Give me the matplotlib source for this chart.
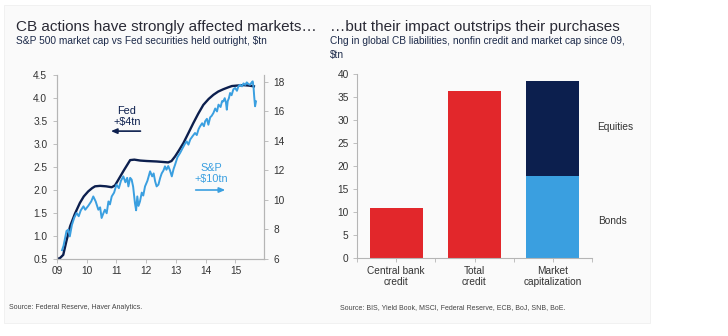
import matplotlib.pyplot as plt
from matplotlib.patches import Rectangle

plt.rcParams['font.family'] = ['Liberation Sans', 'DejaVu Sans']

# left panel: Fed securities held outright ($tn, left axis)
fed_x = [2009.0, 2009.1, 2009.21, 2009.32, 2009.44, 2009.6, 2009.77, 2009.9, 2010.05,
         2010.18, 2010.28, 2010.45, 2010.65, 2010.84, 2010.95, 2011.06, 2011.25,
         2011.46, 2011.6, 2011.8, 2012.02, 2012.35, 2012.55, 2012.74, 2012.85,
         2012.97, 2013.1, 2013.25, 2013.42, 2013.58, 2013.75, 2013.92, 2014.1,
         2014.26, 2014.42, 2014.59, 2014.75, 2014.88, 2015.05, 2015.27, 2015.45, 2015.66]
fed_y = [0.5, 0.52, 0.59, 0.9, 1.21, 1.48, 1.72, 1.86, 1.97,
         2.04, 2.08, 2.09, 2.08, 2.06, 2.1, 2.22, 2.43,
         2.65, 2.66, 2.64, 2.63, 2.62, 2.61, 2.6, 2.63,
         2.73, 2.86, 3.02, 3.24, 3.45, 3.66, 3.85, 3.98,
         4.07, 4.14, 4.19, 4.23, 4.26, 4.27, 4.28, 4.27, 4.25]

# S&P 500 market cap ($tn, right axis)
sp_x = [2009.17, 2009.22, 2009.27, 2009.32, 2009.38, 2009.43, 2009.5, 2009.58, 2009.66,
        2009.73, 2009.8, 2009.89, 2009.95, 2010.05, 2010.15, 2010.22, 2010.3, 2010.39,
        2010.45, 2010.5, 2010.56, 2010.61, 2010.67, 2010.73, 2010.78, 2010.84, 2010.92,
        2011.0, 2011.08, 2011.15, 2011.23, 2011.3, 2011.36, 2011.4, 2011.46, 2011.51,
        2011.56, 2011.62, 2011.66, 2011.7, 2011.74, 2011.79, 2011.85, 2011.9, 2011.96,
        2012.04, 2012.13, 2012.2, 2012.25, 2012.3, 2012.35, 2012.41, 2012.47, 2012.52,
        2012.58, 2012.63, 2012.68, 2012.74, 2012.8, 2012.86, 2012.92, 2012.97, 2013.05,
        2013.14, 2013.22, 2013.3, 2013.36, 2013.42, 2013.48, 2013.55, 2013.64, 2013.7,
        2013.76, 2013.81, 2013.88, 2013.94, 2013.98, 2014.04, 2014.09, 2014.15, 2014.2,
        2014.26, 2014.32, 2014.38, 2014.43, 2014.5, 2014.55, 2014.59, 2014.64, 2014.68,
        2014.71, 2014.74, 2014.78, 2014.82, 2014.87, 2014.93, 2014.99, 2015.05, 2015.1,
        2015.16, 2015.22, 2015.27, 2015.33, 2015.38, 2015.44, 2015.49, 2015.54, 2015.58,
        2015.61, 2015.63, 2015.66, 2015.69]
sp_y = [6.6, 6.9, 7.4, 7.9, 7.99, 7.53, 8.3, 8.8, 9.12,
        8.9, 9.3, 9.57, 9.34, 9.6, 9.9, 10.24, 9.9, 9.34,
        9.5, 8.78, 9.1, 9.34, 9.1, 9.9, 9.7, 10.24, 10.5,
        11.04, 10.8, 11.3, 11.6, 11.2, 11.5, 10.92, 11.5, 11.38,
        10.9, 9.8, 9.3, 10.24, 9.6, 9.9, 10.5, 10.3, 10.92,
        11.3, 11.94, 11.6, 11.8, 11.26, 10.92, 11.04, 11.5, 11.8,
        12.0, 12.28, 12.05, 12.3, 12.0, 11.6, 12.1, 12.39, 12.9,
        13.19, 13.5, 13.8, 13.97, 13.75, 14.1, 14.3, 14.54, 14.4,
        14.8, 14.99, 15.2, 15.0, 15.33, 15.5, 15.1, 15.6, 15.7,
        15.9, 16.2, 16.0, 16.46, 16.3, 16.7, 16.68, 16.9, 16.6,
        16.12, 16.7, 16.9, 17.25, 17.1, 17.5, 17.59, 17.4, 17.7,
        17.81, 17.7, 17.9, 17.8, 17.97, 17.85, 17.81, 17.95, 18.04,
        17.6, 17.02, 16.35, 16.68]

# right panel: change since 09, $tn
bar_labels = ['Central bank\ncredit', 'Total\ncredit', 'Market\ncapitalization']
credit = [10.8, 36.4, 0]
bonds = [0, 0, 17.8]
equities = [0, 0, 20.7]

navy = '#0c1f4e'
lightblue = '#3a9fe0'
red = '#e2272b'
spine = '#b5b5b5'
txt = '#333333'
tick_fs = 7.3

fig = plt.figure(figsize=(7.28, 3.36), dpi=100)
fig.patches.append(Rectangle((4 / 728, 13 / 336), 646 / 728, 318 / 336,
                             transform=fig.transFigure, facecolor='#fafafa',
                             edgecolor='#efefef', lw=0.6, zorder=-1))

fig.text(16 / 728, 1 - 31 / 336, 'CB actions have strongly affected markets…',
         fontsize=11, color='#2a2a35')
fig.text(16 / 728, 1 - 44.5 / 336, 'S&P 500 market cap vs Fed securities held outright, $tn',
         fontsize=7.3, color='#1c2a4a')
fig.text(330 / 728, 1 - 31 / 336, '…but their impact outstrips their purchases',
         fontsize=11, color='#2a2a35')
fig.text(330 / 728, 1 - 44.5 / 336, 'Chg in global CB liabilities, nonfin credit and market cap since 09,',
         fontsize=7.3, color='#1c2a4a')
fig.text(330 / 728, 1 - 58 / 336, '$tn', fontsize=7.3, color='#1c2a4a')
fig.text(9 / 728, 1 - 309 / 336, 'Source: Federal Reserve, Haver Analytics.',
         fontsize=5.0, color='#444444')
fig.text(340 / 728, 1 - 309 / 336, 'Source: BIS, Yield Book, MSCI, Federal Reserve, ECB, BoJ, SNB, BoE.',
         fontsize=5.0, color='#444444')

# left chart
ax = fig.add_axes([57 / 728, 77 / 336, 207 / 728, 184 / 336])
ax.set_facecolor('none')
ax.plot(fed_x, fed_y, color=navy, lw=1.7, solid_capstyle='butt')
ax.set_xlim(2009, 2015.96)
ax.set_ylim(0.5, 4.5)
ax.set_yticks([0.5, 1.0, 1.5, 2.0, 2.5, 3.0, 3.5, 4.0, 4.5])
ax.set_xticks(range(2009, 2016))
ax.set_xticklabels(['09', '10', '11', '12', '13', '14', '15'])
ax2 = ax.twinx()
ax2.plot(sp_x, sp_y, color=lightblue, lw=1.4)
ax2.set_ylim(6, 18.47)
ax2.set_yticks(range(6, 19, 2))
for a in (ax, ax2):
    a.spines['top'].set_visible(False)
    for s in ('left', 'right', 'bottom'):
        a.spines[s].set_color(spine)
        a.spines[s].set_linewidth(0.8)
    a.tick_params(colors=spine, labelcolor=txt, labelsize=tick_fs, length=3, width=0.6, pad=2)
ax.tick_params(axis='y', pad=4)
ax2.tick_params(axis='y', pad=4)

ax.text(2011.35, 3.6, 'Fed\n+$4tn', color=navy, fontsize=7.8, ha='center', va='center',
        linespacing=1.1)
ax.annotate('', xy=(2010.72, 3.28), xytext=(2011.9, 3.28),
            arrowprops=dict(arrowstyle='-|>,head_length=0.35,head_width=0.15', color=navy, lw=1.2))
ax.text(2014.2, 2.36, 'S&P\n+$10tn', color=lightblue, fontsize=7.8, ha='center', va='center',
        linespacing=1.1)
ax.annotate('', xy=(2014.75, 2.0), xytext=(2013.57, 2.0),
            arrowprops=dict(arrowstyle='-|>,head_length=0.35,head_width=0.15', color=lightblue, lw=1.2))

# right chart
bx = fig.add_axes([357 / 728, 78 / 336, 235 / 728, 184 / 336])
bx.set_facecolor('none')
pos = range(len(bar_labels))
bx.bar(pos, credit, width=0.68, color=red)
bx.bar(pos, bonds, width=0.68, color=lightblue)
bx.bar(pos, equities, bottom=bonds, width=0.68, color=navy)
bx.set_xlim(-0.5, 2.5)
bx.set_ylim(0, 40)
bx.set_yticks(range(0, 41, 5))
bx.set_xticks(list(pos))
bx.set_xticklabels(bar_labels, linespacing=1.1)
bx.set_xticks([-0.5, 0.5, 1.5, 2.5], minor=True)
bx.tick_params(axis='x', which='major', length=0)
bx.tick_params(axis='x', which='minor', length=3, width=0.6, colors=spine)
bx.tick_params(colors=spine, labelcolor=txt, labelsize=tick_fs, width=0.6, length=3, pad=3)
for s in ('top', 'right'):
    bx.spines[s].set_visible(False)
for s in ('left', 'bottom'):
    bx.spines[s].set_color(spine)
    bx.spines[s].set_linewidth(0.8)
bx.text(2.56, 28.5, 'Equities', fontsize=tick_fs, color=txt, va='center', ha='left')
bx.text(2.58, 8.0, 'Bonds', fontsize=tick_fs, color=txt, va='center', ha='left')

fig.savefig('out.png', dpi=100)
